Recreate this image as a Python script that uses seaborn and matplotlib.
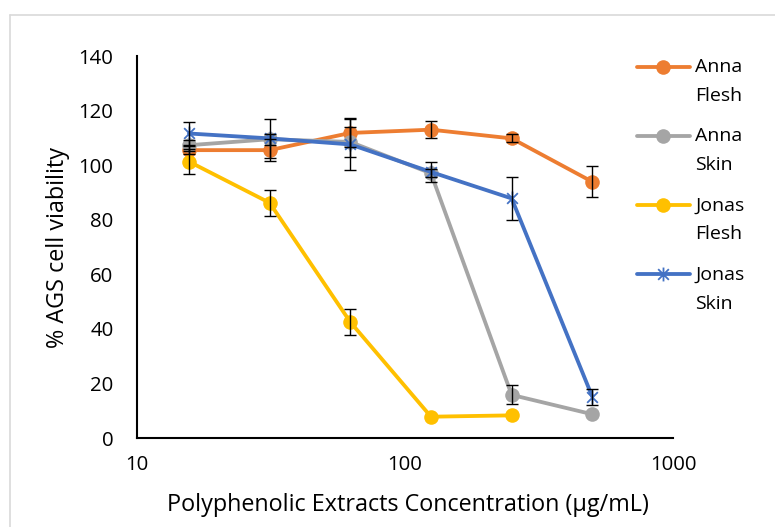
import numpy as np
import pandas as pd
import matplotlib
matplotlib.use("Agg")
import matplotlib.pyplot as plt
import seaborn as sns
from matplotlib.path import Path
from matplotlib.lines import Line2D
from matplotlib.legend_handler import HandlerLine2D

# ---- data ----
concentrations = [15.625, 31.25, 62.5, 125, 250, 500]
series_names = ["Anna\nFlesh", "Anna\nSkin", "Jonas\nFlesh", "Jonas\nSkin"]
anna_flesh = [105.5, 105.5, 111.8, 113.0, 109.8, 93.9]
anna_flesh_err = [1.5, 4.0, 5.0, 3.2, 1.5, 5.7]
anna_skin = [107.3, 109.5, 108.5, 97.0, 15.8, 8.7]
anna_skin_err = [2.0, 2.0, 5.5, 1.5, 3.5, 0.0]
jonas_flesh = [101.3, 86.2, 42.5, 7.8, 8.3, np.nan]   # no value at 500
jonas_flesh_err = [4.5, 4.8, 4.6, 0.0, 0.0, 0.0]
jonas_skin = [111.6, 109.8, 107.6, 97.5, 87.8, 15.1]
jonas_skin_err = [4.3, 7.0, 9.5, 3.5, 8.0, 3.0]
x_ticks = [10, 100, 1000]
y_ticks = [0, 20, 40, 60, 80, 100, 120, 140]
x_label = "Polyphenolic Extracts Concentration (µg/mL)"
y_label = "% AGS cell viability"

values = [anna_flesh, anna_skin, jonas_flesh, jonas_skin]
errors = [anna_flesh_err, anna_skin_err, jonas_flesh_err, jonas_skin_err]
colors = ["#ED7D31", "#A5A5A5", "#FFC000", "#4472C4"]

rows = []
for name, vals in zip(series_names, values):
    for c, v in zip(concentrations, vals):
        if not np.isnan(v):
            rows.append({"conc": c, "viability": v, "series": name})
df = pd.DataFrame(rows)

# ---- style ----
sns.set_style("white")
plt.rcParams["font.family"] = ["Open Sans", "DejaVu Sans"]
FS_TICK = 14.7
FS_TITLE = 16.8
FS_LEG = 14.0

star = Path([(-1, -1), (1, 1), (-1, 1), (1, -1), (0, -1.3), (0, 1.3)],
            [Path.MOVETO, Path.LINETO, Path.MOVETO, Path.LINETO, Path.MOVETO, Path.LINETO])

fig = plt.figure(figsize=(7.75, 5.27), dpi=100)
ax = fig.add_axes([137 / 775, 1 - 438 / 527, (673 - 137) / 775, (438 - 56) / 527])

palette = dict(zip(series_names, colors))
markers = {series_names[0]: "o", series_names[1]: "o", series_names[2]: "o", series_names[3]: star}

for name, vals, errs in zip(series_names, values, errors):
    keep = [(c, v, e) for c, v, e in zip(concentrations, vals, errs) if e > 0 and not np.isnan(v)]
    xs = [k[0] for k in keep]
    ys = [k[1] for k in keep]
    es = [k[2] for k in keep]
    ax.errorbar(xs, ys, yerr=es, fmt="none", ecolor="black",
                elinewidth=1.0, capsize=4, capthick=1.0, zorder=3)

sns.lineplot(data=df, x="conc", y="viability", hue="series", style="series",
             hue_order=series_names, style_order=series_names,
             palette=palette, markers=markers, dashes=False, linewidth=2.75,
             markersize=10.5, markeredgewidth=0, ax=ax, legend=False, zorder=2)
for line in ax.get_lines():
    if matplotlib.colors.to_hex(line.get_color()).upper() == "#4472C4":
        line.set_markeredgewidth(1.3)
        line.set_markeredgecolor("#4472C4")
        line.set_markersize(10)

ax.set_xscale("log")
ax.set_xlim(10, 1000)
ax.set_ylim(0, 140)
ax.set_xticks(x_ticks)
ax.set_xticklabels([str(t) for t in x_ticks])
ax.xaxis.set_minor_locator(matplotlib.ticker.NullLocator())
ax.set_yticks(y_ticks)
ax.set_yticklabels([str(t) for t in y_ticks])
ax.tick_params(axis="both", direction="in", length=5, width=1.5, color="black",
               labelsize=FS_TICK, labelcolor="black")
ax.tick_params(axis="x", pad=12)
ax.tick_params(axis="y", pad=17)

for s in ["top", "right"]:
    ax.spines[s].set_visible(False)
for s in ["left", "bottom"]:
    ax.spines[s].set_color("black")
    ax.spines[s].set_linewidth(1.5)

ax.set_xlabel(x_label, fontsize=FS_TITLE, color="black")
ax.set_ylabel(y_label, fontsize=FS_TITLE, color="black")
ax.xaxis.set_label_coords(0.505, -0.145)
ax.yaxis.set_label_coords(-0.125, 0.5)


class FirstLineHandler(HandlerLine2D):
    def __init__(self, dy, **kw):
        super().__init__(**kw)
        self.dy = dy

    def create_artists(self, legend, orig_handle, xdescent, ydescent, width,
                       height, fontsize, trans):
        arts = super().create_artists(legend, orig_handle, xdescent, ydescent,
                                      width, height, fontsize, trans)
        for a in arts:
            a.set_ydata(np.asarray(a.get_ydata(), dtype=float) + self.dy)
        return arts


handles = []
for name, col in zip(series_names, colors):
    if name == series_names[3]:
        h = Line2D([], [], color=col, linewidth=2.75, marker=star, markersize=10,
                   markeredgewidth=1.3, markeredgecolor=col)
    else:
        h = Line2D([], [], color=col, linewidth=2.75, marker="o", markersize=10.5,
                   markeredgewidth=0)
    handles.append(h)
handler = FirstLineHandler(10.8, numpoints=1)
leg = fig.legend(handles, series_names, loc="upper left",
                 bbox_to_anchor=(637 / 775, 1 - 58 / 527), frameon=False,
                 fontsize=FS_LEG, handlelength=2.7, handletextpad=0.3,
                 labelspacing=1.15, borderpad=0, borderaxespad=0,
                 handler_map={Line2D: handler})
for t in leg.get_texts():
    t.set_linespacing(1.78)
    t.set_color("black")

# chart area border (light gray)
fig.add_artist(Line2D([10 / 775, 10 / 775], [0, 1 - 15 / 527], transform=fig.transFigure,
                      color="#d9d9d9", linewidth=1.2))
fig.add_artist(Line2D([10 / 775, 1], [1 - 15 / 527, 1 - 15 / 527], transform=fig.transFigure,
                      color="#d9d9d9", linewidth=1.2))

fig.savefig("out.png", dpi=100)
